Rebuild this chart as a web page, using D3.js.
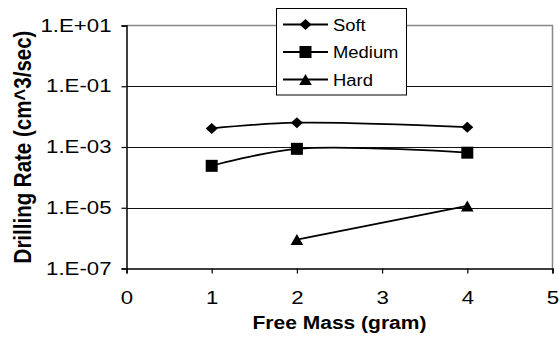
<!DOCTYPE html>
<html>
<head>
<meta charset="utf-8">
<script src="https://cdn.jsdelivr.net/npm/d3@7"></script>
<style>
  html, body { margin: 0; padding: 0; background: #fff; }
  svg { display: block; font-family: "Liberation Sans", Arial, sans-serif; }
</style>
</head>
<body>
<svg id="chart" width="559" height="339"></svg>
<script>
// Drilling rate vs. free mass for three material hardnesses
const seriesNames = ["Soft", "Medium", "Hard"];
const softX = [1, 2, 4];
const softY = [4.1e-3, 6.3e-3, 4.5e-3];
const mediumX = [1, 2, 4];
const mediumY = [2.4e-4, 8.7e-4, 6.5e-4];
const hardX = [2, 4];
const hardY = [9e-7, 1.15e-5];
const xTicks = [0, 1, 2, 3, 4, 5];
const yTicks = [1e1, 1e-1, 1e-3, 1e-5, 1e-7];
const yTickLabels = ["1.E+01", "1.E-01", "1.E-03", "1.E-05", "1.E-07"];

const svg = d3.select("#chart");
const m = { left: 126.5, right: 552.5, top: 25.5, bottom: 268.5 };
const WIDE = 1.2; // horizontal glyph stretch

// widen glyphs horizontally while keeping the anchor point
function widen(sel, k) {
  sel.each(function () {
    const len = this.getComputedTextLength();
    d3.select(this).attr("textLength", len * k).attr("lengthAdjust", "spacingAndGlyphs");
  });
}

const x = d3.scaleLinear().domain([0, 5]).range([m.left, m.right]);
const y = d3.scaleLog().domain([1e-7, 1e1]).range([m.bottom, m.top]);

// gridlines
svg.append("g").selectAll("line")
  .data(yTicks.filter(v => v < 1e1 && v > 1e-7))
  .join("line")
  .attr("x1", m.left).attr("x2", m.right)
  .attr("y1", d => Math.round(y(d)) + 0.5).attr("y2", d => Math.round(y(d)) + 0.5)
  .attr("stroke", "#111").attr("stroke-width", 1);

// plot area border (top and right)
svg.append("path")
  .attr("d", `M${m.left},${m.top}H${m.right}V${m.bottom}`)
  .attr("fill", "none").attr("stroke", "#888").attr("stroke-width", 1.5);

// axes
const xAxis = d3.axisBottom(x).tickValues(xTicks).tickFormat(d3.format("d")).tickSizeOuter(0).tickSize(5).tickPadding(17);
const gx = svg.append("g").attr("transform", `translate(0,${m.bottom})`).call(xAxis);
const yAxis = d3.axisLeft(y).tickValues(yTicks).tickFormat((d, i) => yTickLabels[i]).tickSizeOuter(0).tickSize(5).tickPadding(10);
const gy = svg.append("g").attr("transform", `translate(${m.left},0)`).call(yAxis);
[gx, gy].forEach(g => {
  g.select(".domain").attr("stroke", "#000").attr("stroke-width", 1.5);
  g.selectAll(".tick line").attr("stroke", "#000").attr("stroke-width", 1.2);
  g.selectAll(".tick text").attr("font-size", 18.5).attr("fill", "#000")
    .attr("font-family", "Liberation Sans, Arial, sans-serif");
});
gy.selectAll(".tick text").attr("dy", "0.30em");
widen(gx.selectAll(".tick text"), WIDE);
widen(gy.selectAll(".tick text"), WIDE);

// axis titles
const xt = svg.append("text").attr("x", (m.left + m.right) / 2).attr("y", 329)
  .attr("text-anchor", "middle").attr("font-size", 17.5).attr("font-weight", "bold")
  .text("Free Mass (gram)");
widen(xt, WIDE);
svg.append("text").attr("transform", `translate(30.5,${(m.top + m.bottom) / 2}) rotate(-90) scale(1,${WIDE})`)
  .attr("text-anchor", "middle").attr("font-size", 20.5).attr("font-weight", "bold")
  .text("Drilling Rate (cm^3/sec)");

// marker shapes
const markers = {
  diamond: "M0,-5.5L6,0L0,5.5L-6,0Z",
  square: "M-6,-6H6V6H-6Z",
  triangle: "M0,-5.5L6.3,5.5H-6.3Z"
};

const series = [
  { name: seriesNames[0], xs: softX, ys: softY, shape: markers.diamond },
  { name: seriesNames[1], xs: mediumX, ys: mediumY, shape: markers.square },
  { name: seriesNames[2], xs: hardX, ys: hardY, shape: markers.triangle }
];

const line = d3.line().x(d => x(d[0])).y(d => y(d[1])).curve(d3.curveCatmullRom.alpha(0.5));

series.forEach(s => {
  const pts = s.xs.map((v, i) => [v, s.ys[i]]);
  svg.append("path").datum(pts).attr("d", line)
    .attr("fill", "none").attr("stroke", "#000").attr("stroke-width", 1.8);
  svg.append("g").selectAll("path").data(pts).join("path")
    .attr("d", s.shape)
    .attr("transform", d => `translate(${x(d[0])},${y(d[1])})`)
    .attr("fill", "#000");
});

// legend
const lg = svg.append("g");
lg.append("rect").attr("x", 276.5).attr("y", 8.5).attr("width", 130).attr("height", 86.5)
  .attr("fill", "#fff").attr("stroke", "#000").attr("stroke-width", 1);
series.forEach((s, i) => {
  const cy = 24.5 + i * 27.5;
  lg.append("line").attr("x1", 283).attr("x2", 328).attr("y1", cy).attr("y2", cy)
    .attr("stroke", "#000").attr("stroke-width", 1.8);
  lg.append("path").attr("d", s.shape)
    .attr("transform", `translate(305.5,${cy})`).attr("fill", "#000");
  const t = lg.append("text").attr("x", 333).attr("y", cy + 6).attr("font-size", 16).text(s.name);
  widen(t, 1.15);
});
</script>
</body>
</html>
